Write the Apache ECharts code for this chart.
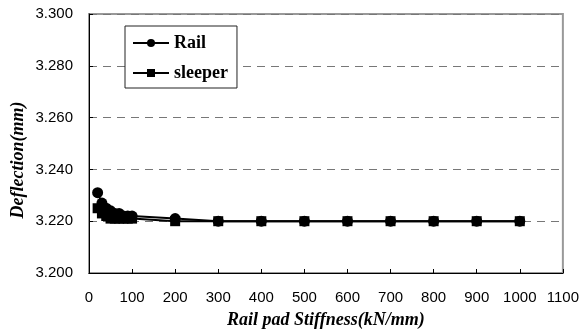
<!DOCTYPE html>
<html><head><meta charset="utf-8">
<script src="https://cdn.jsdelivr.net/npm/echarts@6/dist/echarts.min.js"></script>
<style>html,body{margin:0;padding:0;background:#fff}#c{width:582px;height:336px}</style>
</head><body><div id="c"></div>
<script>
const stiffness = [20, 30, 40, 50, 60, 70, 80, 90, 100, 200, 300, 400, 500, 600, 700, 800, 900, 1000];
const railDeflection = [3.231, 3.227, 3.225, 3.224, 3.223, 3.223, 3.222, 3.222, 3.222, 3.221, 3.220, 3.220, 3.220, 3.220, 3.220, 3.220, 3.220, 3.220];
const sleeperDeflection = [3.225, 3.223, 3.222, 3.221, 3.221, 3.221, 3.221, 3.221, 3.221, 3.220, 3.220, 3.220, 3.220, 3.220, 3.220, 3.220, 3.220, 3.220];
const seriesNames = ['Rail', 'sleeper'];
const xTitle = 'Rail pad Stiffness(kN/mm)';
const yTitle = 'Deflection(mm)';

const chart = echarts.init(document.getElementById('c'), null, {renderer: 'canvas'});
const pair = (ys) => stiffness.map((x, i) => [x, ys[i]]);
const titleFont = {fontFamily: '"Liberation Serif", serif', fontWeight: 'bold', fontStyle: 'italic', fontSize: 18, color: '#000'};
chart.setOption({
  animation: false,
  backgroundColor: '#fff',
  grid: {left: 89, right: 19, top: 14, bottom: 63, show: true, borderColor: '#999', borderWidth: 2},
  legend: {
    left: 125, top: 26, orient: 'vertical',
    backgroundColor: '#fff', borderColor: '#222', borderWidth: 1,
    padding: [8, 9, 6, 7], itemGap: 12, itemWidth: 36, itemHeight: 10,
    textStyle: {fontFamily: '"Liberation Serif", serif', fontWeight: 'bold', fontSize: 18, color: '#000'},
    data: seriesNames
  },
  graphic: [{
    type: 'text', x: 18, y: 160, rotation: Math.PI / 2,
    style: {text: yTitle, textAlign: 'center', textVerticalAlign: 'middle', fill: '#000',
      font: 'italic bold 18px "Liberation Serif"'}
  }],
  xAxis: {
    type: 'value', min: 0, max: 1100, interval: 100,
    name: xTitle, nameLocation: 'middle', nameGap: 38,
    nameTextStyle: titleFont,
    axisLine: {lineStyle: {color: '#000', width: 1}},
    axisTick: {inside: true, length: 4, lineStyle: {color: '#000'}},
    axisLabel: {fontFamily: 'Liberation Sans', fontSize: 15, color: '#000', margin: 17, formatter: v => String(v)},
    splitLine: {show: false}
  },
  yAxis: {
    type: 'value', min: 3.2, max: 3.3, interval: 0.02,
    axisLine: {show: true, lineStyle: {color: '#000', width: 1}},
    axisTick: {show: true, inside: true, length: 4, lineStyle: {color: '#000'}},
    axisLabel: {fontFamily: 'Liberation Sans', fontSize: 15, color: '#000', margin: 16, formatter: v => v.toFixed(3)},
    splitLine: {show: true, lineStyle: {color: '#777', type: [8, 6], width: 1}}
  },
  series: [
    {name: seriesNames[0], type: 'line', data: pair(railDeflection), symbol: 'circle', symbolSize: 11,
     itemStyle: {color: '#000'}, lineStyle: {color: '#000', width: 2}},
    {name: seriesNames[1], type: 'line', data: pair(sleeperDeflection), symbol: 'rect', symbolSize: 10,
     itemStyle: {color: '#000'}, lineStyle: {color: '#000', width: 2}}
  ]
});
</script></body></html>
